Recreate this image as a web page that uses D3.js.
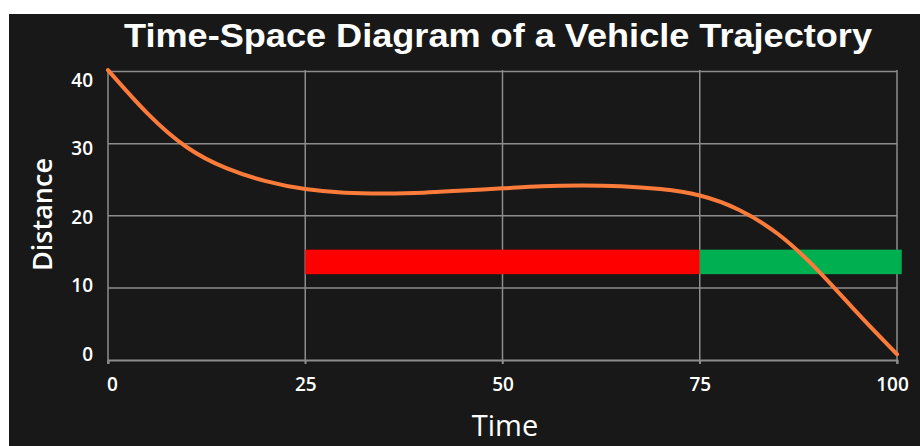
<!DOCTYPE html>
<html>
<head>
<meta charset="utf-8">
<script src="https://cdn.jsdelivr.net/npm/d3@7"></script>
<style>
  html, body { margin: 0; padding: 0; background: #ffffff; }
  svg { display: block; }
  .tick text { font-family: "Open Sans", sans-serif; font-weight: 600; font-size: 19px; fill: #ffffff; }
</style>
</head>
<body>
<script>
// trajectory samples (time, distance)
var times     = [0, 5, 10, 15, 20, 25, 30, 35, 40, 45, 50, 55, 60, 65, 70, 75, 80, 85, 90, 95, 100];
var distances = [40.2, 34.2, 29.5, 26.6, 24.8, 23.7, 23.2, 23.1, 23.2, 23.5, 23.8, 24.1, 24.2, 24.1, 23.7, 22.8, 20.8, 17.4, 12.4, 6.5, 0.8];

// signal bars: [start time, end time]
var barNames  = ['red', 'green'];
var barStarts = [25, 75];
var barEnds   = [75, 100.6];
var barLow    = 11.9;
var barHigh   = 15.3;

var xTicks = [0, 25, 50, 75, 100];
var yTicks = [0, 10, 20, 30, 40];

var titleText = 'Time-Space Diagram of a Vehicle Trajectory';
var xLabel = 'Time';
var yLabel = 'Distance';

(function(){
	const W = 920, H = 446;
	const BG = { x: 9, y: 14 };
	const PLOT = { left: 108, right: 897, top: 71.5, bottom: 360 };
	const GRID = '#8c8c8c';
	const COLORS = { red: '#ff0000', green: '#00b050' };

	var svg = d3.select('body').append('svg')
		.attr('width', W)
		.attr('height', H);

	svg.append('rect')
		.attr('x', BG.x).attr('y', BG.y)
		.attr('width', W - BG.x).attr('height', H - BG.y)
		.attr('fill', '#181818');

	var x = d3.scaleLinear().domain([0, 100]).range([PLOT.left, PLOT.right]);
	var y = d3.scaleLinear().domain([0, 40]).range([PLOT.bottom, PLOT.top]);
	// the tick labels sit a bit off the gridlines in the original
	var yLab = d3.scaleLinear().domain([0, 40]).range([354.5, 80]);

	// gridlines
	svg.append('g').selectAll('line.vgrid')
		.data(xTicks.slice(1))
		.enter().append('line')
		.attr('x1', function(d){ return x(d); })
		.attr('x2', function(d){ return x(d); })
		.attr('y1', PLOT.top - 1.5)
		.attr('y2', PLOT.bottom + 4)
		.attr('stroke', GRID).attr('stroke-width', 1.5);
	svg.append('g').selectAll('line.hgrid')
		.data(yTicks.slice(1))
		.enter().append('line')
		.attr('x1', PLOT.left)
		.attr('x2', PLOT.right)
		.attr('y1', function(d){ return y(d); })
		.attr('y2', function(d){ return y(d); })
		.attr('stroke', GRID).attr('stroke-width', 1.5);

	// x axis
	var xAxis = svg.append('g')
		.attr('transform', 'translate(0,' + PLOT.bottom + ')')
		.call(d3.axisBottom(x).tickValues(xTicks).tickSize(4).tickPadding(14));
	xAxis.select('.domain').attr('stroke', GRID).attr('stroke-width', 2);
	xAxis.selectAll('.tick line').attr('stroke', GRID).attr('stroke-width', 1.5);
	xAxis.selectAll('.tick text')
		.attr('dx', function(d){ return d == 0 ? 4 : (d == 100 ? -5 : 0); });

	// y axis line
	svg.append('line')
		.attr('x1', PLOT.left).attr('x2', PLOT.left)
		.attr('y1', PLOT.top - 1.5).attr('y2', PLOT.bottom + 4)
		.attr('stroke', GRID).attr('stroke-width', 1.5);

	var yAxis = svg.append('g')
		.attr('transform', 'translate(' + (PLOT.left - 15) + ',0)')
		.call(d3.axisLeft(yLab).tickValues(yTicks).tickSize(0).tickPadding(0));
	yAxis.select('.domain').remove();

	// signal bars
	svg.append('g').selectAll('rect')
		.data(barNames)
		.enter().append('rect')
		.attr('x', function(d, i){ return x(barStarts[i]); })
		.attr('width', function(d, i){ return x(barEnds[i]) - x(barStarts[i]); })
		.attr('y', y(barHigh))
		.attr('height', y(barLow) - y(barHigh))
		.attr('fill', function(d){ return COLORS[d]; });

	// trajectory
	var line = d3.line()
		.x(function(d, i){ return x(times[i]); })
		.y(function(d){ return y(d); })
		.curve(d3.curveNatural);
	svg.append('path')
		.datum(distances)
		.attr('fill', 'none')
		.attr('stroke', '#fb7b3a')
		.attr('stroke-width', 4)
		.attr('stroke-linecap', 'round')
		.attr('d', line);

	// title and axis labels
	svg.append('text')
		.attr('x', 498).attr('y', 47)
		.attr('text-anchor', 'middle')
		.attr('textLength', 748)
		.attr('lengthAdjust', 'spacingAndGlyphs')
		.style('font-family', '"Liberation Sans", Arial, sans-serif')
		.style('font-weight', 'bold')
		.style('font-size', '34px')
		.attr('fill', '#ffffff')
		.text(titleText);

	svg.append('text')
		.attr('x', 505).attr('y', 436)
		.attr('text-anchor', 'middle')
		.style('font-family', '"Open Sans", sans-serif')
		.style('font-weight', 500)
		.style('font-size', '29px')
		.attr('fill', '#ffffff')
		.text(xLabel);

	svg.append('text')
		.attr('transform', 'translate(52,' + 214.5 + ') rotate(-90)')
		.attr('text-anchor', 'middle')
		.style('font-family', '"Open Sans", sans-serif')
		.style('font-weight', 600)
		.style('font-size', '27px')
		.attr('fill', '#ffffff')
		.text(yLabel);
})();
</script>
</body>
</html>
